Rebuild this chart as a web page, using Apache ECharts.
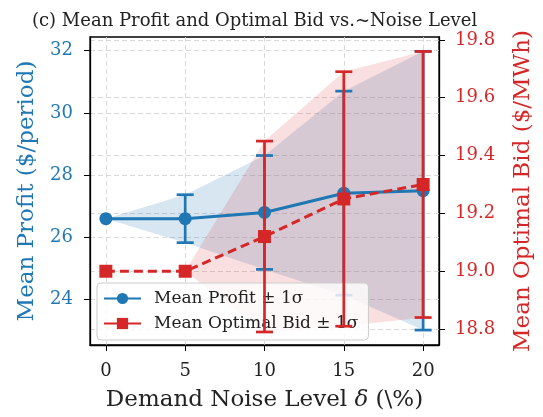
<!DOCTYPE html>
<html><head><meta charset="utf-8">
<script src="https://cdn.jsdelivr.net/npm/echarts@6/dist/echarts.min.js"></script>
<style>html,body{margin:0;padding:0;background:#fff}#c{width:543px;height:417px}</style>
</head><body><div id="c"></div>
<script>
const noise = [0, 5, 10, 15, 20];
const profitMean = [26.6, 26.6, 26.8, 27.42, 27.5];
const profitStd = [0, 0.77, 1.83, 3.28, 4.48];
const bidMean = [19.0, 19.0, 19.12, 19.25, 19.3];
const bidStd = [0, 0, 0.33, 0.44, 0.46];
const xTicks = [0, 5, 10, 15, 20];
const profitTicks = [24, 26, 28, 30, 32];
const bidTicks = [18.8, 19.0, 19.2, 19.4, 19.6, 19.8];

const BLUE = '#1f77b4', RED = '#d62728';
const FONT = 'DejaVu Serif';
const chart = echarts.init(document.getElementById('c'));

function bandSeries(mean, std, yIdx, color, z) {
  return {
    type: 'custom', xAxisIndex: 0, yAxisIndex: yIdx, z: z, silent: true,
    data: [[noise[0], mean[0]]],
    renderItem: function (params, api) {
      const up = noise.map((x, i) => api.coord([x, mean[i] + std[i]]));
      const lo = noise.map((x, i) => api.coord([x, mean[i] - std[i]])).reverse();
      return { type: 'polygon', shape: { points: up.concat(lo) }, style: { fill: color } };
    }
  };
}
function errSeries(mean, std, yIdx, color, z) {
  return {
    type: 'custom', xAxisIndex: 0, yAxisIndex: yIdx, z: z, silent: true,
    data: noise.map((x, i) => [x, mean[i] - std[i], mean[i] + std[i]]).filter((d, i) => std[i] > 0),
    renderItem: function (params, api) {
      const a = api.coord([api.value(0), api.value(1)]);
      const b = api.coord([api.value(0), api.value(2)]);
      const w = 8.5;
      const st = { stroke: color, lineWidth: 2.7 };
      return { type: 'group', children: [
        { type: 'line', shape: { x1: a[0], y1: a[1], x2: b[0], y2: b[1] }, style: st },
        { type: 'line', shape: { x1: a[0] - w, y1: a[1], x2: a[0] + w, y2: a[1] }, style: st },
        { type: 'line', shape: { x1: b[0] - w, y1: b[1], x2: b[0] + w, y2: b[1] }, style: st }
      ]};
    }
  };
}
const splitLine = { show: true, lineStyle: { color: '#d6d6d6', type: [5, 3], width: 0.9 } };
const axisLine = { show: true, onZero: false, lineStyle: { color: '#000', width: 1.3 } };

chart.setOption({
  animation: false,
  title: { text: '(c) Mean Profit and Optimal Bid vs.~Noise Level', left: 32, top: 12, padding: 0,
    textStyle: { fontFamily: FONT, fontSize: 18, fontWeight: 'normal', color: '#222' } },
  grid: { left: 90, right: 97, top: 37, bottom: 68, show: true, borderColor: '#000', borderWidth: 1.3, backgroundColor: 'transparent' },
  legend: {
    orient: 'vertical', left: 97, top: 283, itemWidth: 37, itemHeight: 14, itemGap: 8,
    padding: [7, 10, 8, 6], backgroundColor: 'rgba(255,255,255,0.8)', borderColor: '#cccccc', borderWidth: 1, borderRadius: 4,
    textStyle: { fontFamily: FONT, fontSize: 17, color: '#222', padding: [0, 0, 0, 8] },
    data: [
      { name: 'Mean Profit ± 1σ' },
      { name: 'Mean Optimal Bid ± 1σ', lineStyle: { type: 'solid' } }
    ]
  },
  xAxis: {
    type: 'value', min: -1, max: 21,
    name: 'Demand Noise Level {i|δ} (\\%)', nameLocation: 'middle', nameGap: 44,
    nameTextStyle: { fontFamily: FONT, fontSize: 23, color: '#222',
      rich: { i: { fontFamily: FONT, fontSize: 23, fontStyle: 'italic', color: '#222' } } },
    axisLine: axisLine,
    axisTick: { show: true, length: 6, lineStyle: { color: '#000' }, customValues: xTicks },
    axisLabel: { fontFamily: FONT, fontSize: 18, color: '#222', margin: 17, customValues: xTicks },
    splitLine: splitLine
  },
  yAxis: [{
    type: 'value', min: 22.54, max: 32.44, position: 'left',
    name: 'Mean Profit ($/period)', nameLocation: 'middle', nameGap: 51, nameRotate: 90,
    nameTextStyle: { fontFamily: FONT, fontSize: 23, color: BLUE },
    axisLine: axisLine,
    axisTick: { show: true, length: 6, lineStyle: { color: '#000' }, customValues: profitTicks },
    axisLabel: { fontFamily: FONT, fontSize: 18, color: BLUE, margin: 17, customValues: profitTicks },
    splitLine: splitLine
  }, {
    type: 'value', min: 18.745, max: 19.81, position: 'right',
    name: 'Mean Optimal Bid ($/MWh)', nameLocation: 'middle', nameGap: 73, nameRotate: 90,
    nameTextStyle: { fontFamily: FONT, fontSize: 23, color: RED },
    axisLine: axisLine,
    axisTick: { show: true, length: 6, lineStyle: { color: '#000' }, customValues: bidTicks },
    axisLabel: { fontFamily: FONT, fontSize: 18, color: RED, margin: 16, customValues: bidTicks,
      formatter: v => v.toFixed(1) },
    splitLine: splitLine
  }],
  series: [
    bandSeries(profitMean, profitStd, 0, 'rgba(31,119,180,0.18)', 1),
    bandSeries(bidMean, bidStd, 1, 'rgba(214,39,40,0.15)', 1),
    errSeries(profitMean, profitStd, 0, BLUE, 3),
    {
      name: 'Mean Profit ± 1σ', type: 'line', xAxisIndex: 0, yAxisIndex: 0, z: 4,
      data: noise.map((x, i) => [x, profitMean[i]]),
      symbol: 'circle', symbolSize: 13, itemStyle: { color: BLUE },
      lineStyle: { color: BLUE, width: 3 }
    },
    errSeries(bidMean, bidStd, 1, RED, 5),
    {
      name: 'Mean Optimal Bid ± 1σ', type: 'line', xAxisIndex: 0, yAxisIndex: 1, z: 6,
      data: noise.map((x, i) => [x, bidMean[i]]),
      symbol: 'rect', symbolSize: 13, itemStyle: { color: RED },
      lineStyle: { color: RED, width: 3, type: [9, 5] }
    }
  ]
});
</script></body></html>
